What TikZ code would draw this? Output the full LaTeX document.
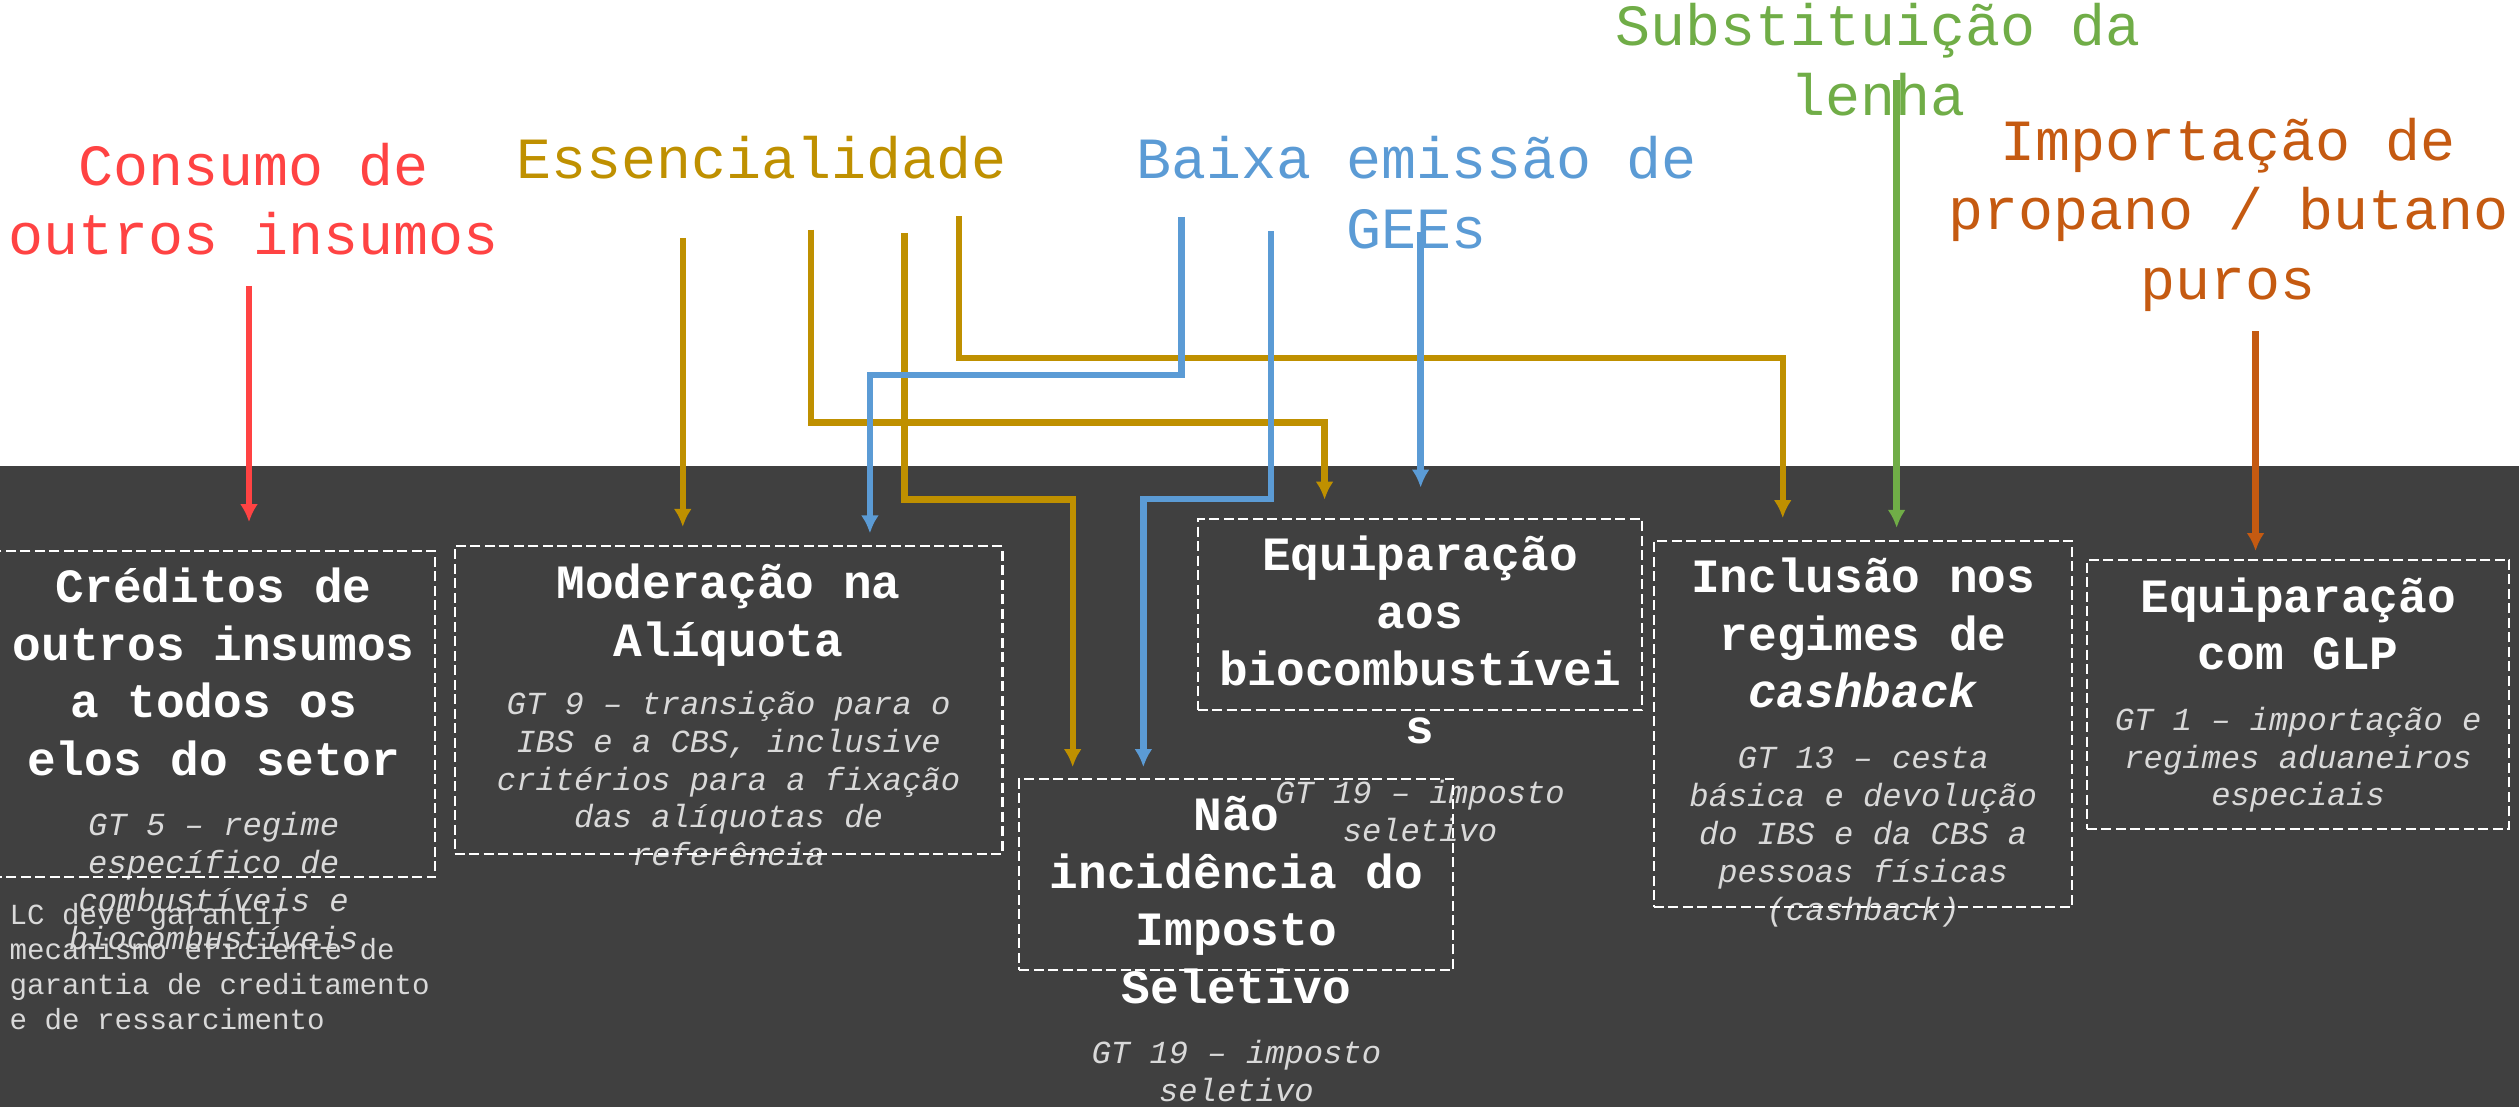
\documentclass[tikz,border=0pt]{standalone}
\usepackage{fontspec}
\setmainfont{Liberation Mono}
\usetikzlibrary{arrows.meta}

\definecolor{bandgray}{HTML}{404040}
\definecolor{consred}{HTML}{FF4343}
\definecolor{essgold}{HTML}{BF9000}
\definecolor{geeblue}{HTML}{5B9BD5}
\definecolor{lenhagreen}{HTML}{70AD47}
\definecolor{proporange}{HTML}{C55A11}
\definecolor{gtgray}{HTML}{D9D9D9}

\newcommand{\pxl}{0.16065mm}

\tikzset{
  topic/.style={align=center, anchor=base, inner sep=0pt, font=\fontsize{16.6}{19.8}\selectfont},
  title/.style={align=center, anchor=base, inner sep=0pt, text=white, font=\bfseries\fontsize{13.6}{16.4}\selectfont},
  gt/.style={align=center, anchor=base, inner sep=0pt, text=gtgray, font=\itshape\fontsize{9.15}{10.75}\selectfont},
  box/.style={draw=white, line width=0.6pt, dash pattern=on 1mm off 0.45mm, inner sep=0pt},
  link/.style={line width=1.8pt, -{Latex[length=1.8mm,width=1.8mm]}},
}

\begin{document}
\begin{tikzpicture}[x=\pxl, y=-\pxl]
        \useasboundingbox (0,0) rectangle (1568,689);
        \fill[bandgray] (0,290) rectangle (1568,689);

        % criteria on top (placed at the baseline of the last line)
        \node[topic, text=consred] (cons) at (158,158.65) {Consumo de\\outros insumos};
        \node[topic, text=essgold] (ess) at (474,111.2) {Essencialidade};
        \node[topic, text=geeblue] (gee) at (882,154.65) {Baixa emissão de\\GEEs};
        \node[topic, text=lenhagreen] (lenha) at (1169,71.65) {Substituição da\\lenha};
        \node[topic, text=proporange] (prop) at (1387,186.3) {Importação de\\propano / butano\\puros};

        % proposals
        \node[title] (cred-t) at (133,482.6) {Créditos de\\outros insumos\\a todos os\\elos do setor};
        \node[gt] (cred-g) at (133,590.8) {GT 5 – regime\\específico de\\combustíveis e\\biocombustíveis};
        \node[align=left, anchor=base west, inner sep=0pt, text=gtgray, font=\fontsize{8.3}{9.93}\selectfont] (lc) at (5.5,640.8) {LC deve garantir\\mecanismo eficiente de\\garantia de creditamento\\e de ressarcimento};

        \node[title] (moder-t) at (453.5,408.7) {Moderação na\\Alíquota};
        \node[gt] (moder-g) at (453.5,538.8) {GT 9 – transição para o\\IBS e a CBS, inclusive\\critérios para a fixação\\das alíquotas de\\referência};

        \node[title] (equip-t) at (883.9,462.8) {Equiparação\\aos\\biocombustívei\\s};
        \node[gt] (equip-g) at (883.9,523.6) {GT 19 – imposto\\seletivo};

        \node[title] (nao-t) at (769.6,624.6) {Não\\incidência do\\Imposto\\Seletivo};
        \node[gt] (nao-g) at (769.6,685.5) {GT 19 – imposto\\seletivo};

        \node[title] (incl-t) at (1159.75,440.5) {Inclusão nos\\regimes de\\\textit{cashback}};
        \node[gt] (incl-g) at (1159.75,572.7) {GT 13 – cesta\\básica e devolução\\do IBS e da CBS a\\pessoas físicas\\(cashback)};

        \node[title] (glp-t) at (1430.5,417) {Equiparação\\com GLP};
        \node[gt] (glp-g) at (1430.5,501.6) {GT 1 – importação e\\regimes aduaneiros\\especiais};

        % dashed frames
        \node[box, minimum width=276*\pxl, minimum height=203*\pxl] (cred) at (133,444.5) {};
        \node[box, minimum width=341*\pxl, minimum height=191.5*\pxl] (moder) at (453.5,435.75) {};
        \node[box, minimum width=276.8*\pxl, minimum height=118.7*\pxl] (equip) at (883.9,382.55) {};
        \node[box, minimum width=270.2*\pxl, minimum height=118.7*\pxl] (nao) at (769.6,544.35) {};
        \node[box, minimum width=260.5*\pxl, minimum height=227.5*\pxl] (incl) at (1159.75,450.65) {};
        \node[box, minimum width=263*\pxl, minimum height=167.4*\pxl] (glp) at (1430.5,432.3) {};

        % arrow ends
        \coordinate (cons-s) at (155,178);
        \coordinate (ess-a) at (425,148);
        \coordinate (ess-b) at (505,143);
        \coordinate (ess-c) at (563,145);
        \coordinate (ess-d) at (597,134.5);
        \coordinate (gee-a) at (735.5,135);
        \coordinate (gee-b) at (791.3,143.8);
        \coordinate (gee-c) at (884.3,144.5);
        \coordinate (lenha-s) at (1180.6,50);
        \coordinate (prop-s) at (1404,206.3);

        \coordinate (cred-in) at (155,325);
        \coordinate (moder-in1) at (425,328);
        \coordinate (moder-in2) at (541.5,332);
        \coordinate (equip-in1) at (824.5,311);
        \coordinate (equip-in2) at (884.3,303.5);
        \coordinate (nao-in1) at (667.7,477.5);
        \coordinate (nao-in2) at (711.7,477.5);
        \coordinate (incl-in1) at (1109.7,322.5);
        \coordinate (incl-in2) at (1180.6,328.6);
        \coordinate (glp-in) at (1404,343);

        \draw[link, consred] (cons-s) -- (cred-in);
        \draw[link, essgold] (ess-a) -- (moder-in1);
        \draw[link, essgold] (ess-b) -- ++(0,120) -| (equip-in1);
        \draw[link, essgold] (ess-c) -- ++(0,166) -| (nao-in1);
        \draw[link, essgold] (ess-d) -- ++(0,88.5) -| (incl-in1);
        \draw[link, geeblue] (gee-a) -- ++(0,98.5) -| (moder-in2);
        \draw[link, geeblue] (gee-b) -- ++(0,167) -| (nao-in2);
        \draw[link, geeblue] (gee-c) -- (equip-in2);
        \draw[link, lenhagreen] (lenha-s) -- (incl-in2);
        \draw[link, proporange] (prop-s) -- (glp-in);
\end{tikzpicture}
\end{document}
